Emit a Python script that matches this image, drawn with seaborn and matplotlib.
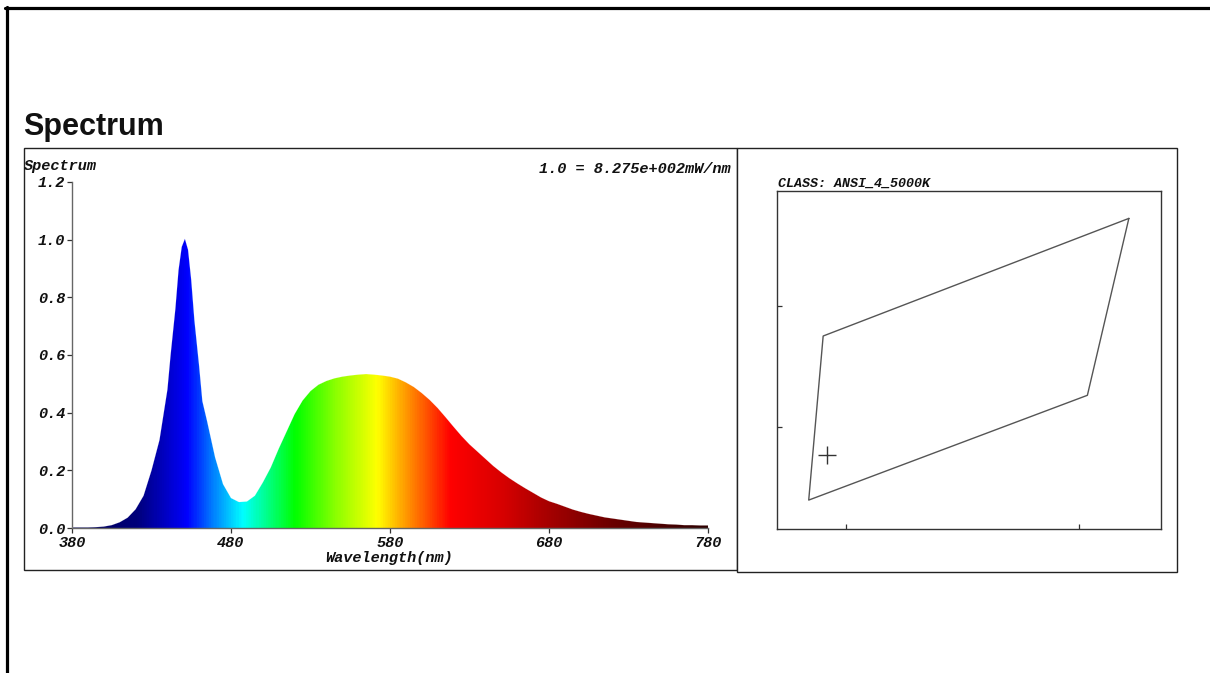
import numpy as np
import matplotlib
matplotlib.use("Agg")
import matplotlib.pyplot as plt
from matplotlib.colors import LinearSegmentedColormap
from matplotlib.lines import Line2D
from matplotlib.patches import Rectangle, PathPatch
from matplotlib.path import Path
import pandas as pd
import seaborn as sns

# ---------------- data ----------------
wavelength_nm = [380, 385, 390, 395, 400, 405, 410, 415, 420, 425, 430, 435, 440,
                 442, 445, 447, 449, 451, 453, 455, 457, 460, 462, 465, 470, 475,
                 480, 485, 490, 495, 500, 505, 510, 515, 520, 525, 530, 535, 540,
                 545, 550, 555, 560, 565, 570, 575, 580, 585, 590, 595, 600, 605,
                 610, 615, 620, 625, 630, 635, 640, 645, 650, 655, 660, 665, 670,
                 675, 680, 685, 690, 695, 700, 705, 710, 715, 720, 725, 730, 735,
                 740, 745, 750, 755, 760, 765, 770, 775, 780]
relative_power = [0.002, 0.002, 0.002, 0.003, 0.005, 0.010, 0.020, 0.036, 0.065,
                  0.112, 0.200, 0.305, 0.480, 0.600, 0.760, 0.895, 0.975, 1.003,
                  0.965, 0.860, 0.720, 0.560, 0.440, 0.370, 0.245, 0.152, 0.104,
                  0.090, 0.092, 0.112, 0.158, 0.210, 0.275, 0.335, 0.395, 0.442,
                  0.475, 0.497, 0.510, 0.519, 0.525, 0.529, 0.532, 0.534, 0.532,
                  0.529, 0.525, 0.518, 0.505, 0.489, 0.468, 0.444, 0.416, 0.384,
                  0.351, 0.319, 0.290, 0.265, 0.240, 0.215, 0.193, 0.173, 0.155,
                  0.138, 0.122, 0.106, 0.093, 0.084, 0.074, 0.064, 0.056, 0.049,
                  0.043, 0.037, 0.033, 0.029, 0.025, 0.021, 0.019, 0.017, 0.015,
                  0.013, 0.012, 0.010, 0.010, 0.009, 0.009]
spec_x_ticks = [380, 480, 580, 680, 780]
spec_y_ticks = [0.0, 0.2, 0.4, 0.6, 0.8, 1.0, 1.2]

bin_cx = [0.34607, 0.33951, 0.33920, 0.34518, 0.34607]
bin_cy = [0.35362, 0.34876, 0.34198, 0.34631, 0.35362]
point_cx = [0.33959]
point_cy = [0.34384]
cie_x_ticks = [0.340, 0.345]
cie_y_ticks = [0.345, 0.350]

# ---------------- setup ----------------
sns.set_style("white")
plt.rcParams["font.family"] = ["Liberation Mono", "DejaVu Sans"]

W, H = 1210, 673
fig = plt.figure(figsize=(W / 100, H / 100), dpi=100)
fig.patch.set_facecolor("white")


def fy(py):
    return 1 - py / H


mono = dict(family=["Liberation Mono", "DejaVu Sans Mono"], weight="bold",
            style="italic", color="#111111")

# page border
fig.add_artist(Line2D([5 / W, 1.0], [fy(7.5), fy(7.5)], transform=fig.transFigure,
                      color="black", lw=2.3))
fig.add_artist(Line2D([6.5 / W, 6.5 / W], [fy(6.5), 0.0], transform=fig.transFigure,
                      color="black", lw=2.3))

# title
fig.text(23 / W, fy(135), "Spectrum", fontsize=22, weight="bold",
         family=["Liberation Sans", "DejaVu Sans"], va="baseline", ha="left",
         color="#111111")

# left panel box
fig.add_artist(Rectangle((24 / W, fy(570)), (737 - 24) / W, (570 - 148) / H,
                         transform=fig.transFigure, fill=False, lw=1.0, ec="#222222"))

# ---------------- spectrum axes ----------------
ax1 = fig.add_axes([72 / W, fy(528), (708 - 72) / W, (528 - 182) / H])
df = pd.DataFrame({"wl": wavelength_nm, "p": relative_power})
sns.lineplot(data=df, x="wl", y="p", ax=ax1, color="white", lw=0.3, alpha=0.3,
             zorder=3)
line = ax1.lines[0]
xy = line.get_xydata()
verts = np.vstack([[xy[0, 0], 0.0], xy, [xy[-1, 0], 0.0], [xy[0, 0], 0.0]])
clip = PathPatch(Path(verts), transform=ax1.transData, facecolor="none",
                 edgecolor="none")
ax1.add_patch(clip)


def f(nm):
    return (nm - 380) / 400


spec_cmap = LinearSegmentedColormap.from_list("spec", [
    (f(380), (0.00, 0.00, 0.33)),
    (f(420), (0.00, 0.00, 0.48)),
    (f(440), (0.00, 0.00, 0.80)),
    (f(452), (0.00, 0.00, 1.00)),
    (f(470), (0.00, 0.55, 1.00)),
    (f(487), (0.00, 1.00, 1.00)),
    (f(520), (0.00, 1.00, 0.00)),
    (f(546), (0.55, 1.00, 0.00)),
    (f(572), (1.00, 1.00, 0.00)),
    (f(590), (1.00, 0.60, 0.00)),
    (f(605), (1.00, 0.28, 0.00)),
    (f(618), (1.00, 0.00, 0.00)),
    (f(650), (0.85, 0.00, 0.00)),
    (f(680), (0.65, 0.00, 0.00)),
    (f(720), (0.42, 0.00, 0.00)),
    (f(780), (0.18, 0.00, 0.00)),
])
grad = spec_cmap(np.linspace(0, 1, 800))[np.newaxis, :, :3]
im = ax1.imshow(grad, extent=[380, 780, 0, 1.2], aspect="auto", origin="lower",
                interpolation="bilinear", zorder=2)
im.set_clip_path(clip)

ax1.set_xlim(380, 780)
ax1.set_ylim(0, 1.2)
ax1.set_xticks(spec_x_ticks)
ax1.set_yticks(spec_y_ticks)
ax1.set_xticklabels([str(v) for v in spec_x_ticks])
ax1.set_yticklabels([f"{v:.1f}" for v in spec_y_ticks])
for lab in ax1.get_xticklabels() + ax1.get_yticklabels():
    lab.set_fontsize(11)
    lab.set_fontweight("bold")
    lab.set_fontstyle("italic")
    lab.set_color("#111111")
ax1.tick_params(axis="both", direction="out", length=3.5, width=0.9,
                colors="#333333", labelcolor="#111111")
ax1.tick_params(axis="y", pad=1.5, left=True)
ax1.tick_params(axis="x", pad=2.0, bottom=True)
for s in ["top", "right"]:
    ax1.spines[s].set_visible(False)
for s in ["left", "bottom"]:
    ax1.spines[s].set_color("#666666")
    ax1.spines[s].set_linewidth(1.0)
ax1.set_xlabel("")
ax1.set_ylabel("")
ax1.patch.set_alpha(0)

fig.text(24 / W, fy(166), "Spectrum", fontsize=11, va="center", ha="left", **mono)
fig.text(539 / W, fy(169), "1.0 = 8.275e+002mW/nm", fontsize=11, va="center",
         ha="left", **mono)
fig.text(389 / W, fy(558), "Wavelength(nm)", fontsize=11, va="center",
         ha="center", **mono)

# ---------------- right panel ----------------
fig.add_artist(Rectangle((737 / W, fy(572)), (1177 - 737) / W, (572 - 148) / H,
                         transform=fig.transFigure, facecolor="white", lw=1.0,
                         ec="#222222", zorder=4))

ax2 = fig.add_axes([777 / W, fy(528.5), (1161 - 777) / W, (528.5 - 190.5) / H],
                   zorder=5)
cdf = pd.DataFrame({"x": bin_cx, "y": bin_cy})
sns.lineplot(data=cdf, x="x", y="y", ax=ax2, sort=False, color="#555555", lw=1.0,
             estimator=None)
pdf = pd.DataFrame({"x": point_cx, "y": point_cy})
sns.scatterplot(data=pdf, x="x", y="y", ax=ax2, marker="+", s=150,
                color="#333333", linewidth=1.0)
px_per = 233 / 0.005
x0 = 0.340 - (846 - 777) / px_per
x1 = 0.345 + (1161 - 1079) / px_per
py_per = 121 / 0.005
y0 = 0.345 - (528.5 - 427) / py_per
y1 = 0.350 + (306 - 190.5) / py_per
ax2.set_xlim(x0, x1)
ax2.set_ylim(y0, y1)
ax2.set_xticks(cie_x_ticks)
ax2.set_yticks(cie_y_ticks)
ax2.set_xticklabels([])
ax2.set_yticklabels([])
ax2.tick_params(axis="both", direction="in", length=3.8, width=0.9,
                colors="#333333", left=True, bottom=True)
for s in ax2.spines.values():
    s.set_visible(True)
    s.set_color("#333333")
    s.set_linewidth(1.0)
ax2.set_xlabel("")
ax2.set_ylabel("")

fig.text(778 / W, fy(184), "CLASS: ANSI_4_5000K", fontsize=9.6, va="center",
         ha="left", zorder=6, **mono)

fig.savefig("out.png", dpi=100, facecolor="white")
